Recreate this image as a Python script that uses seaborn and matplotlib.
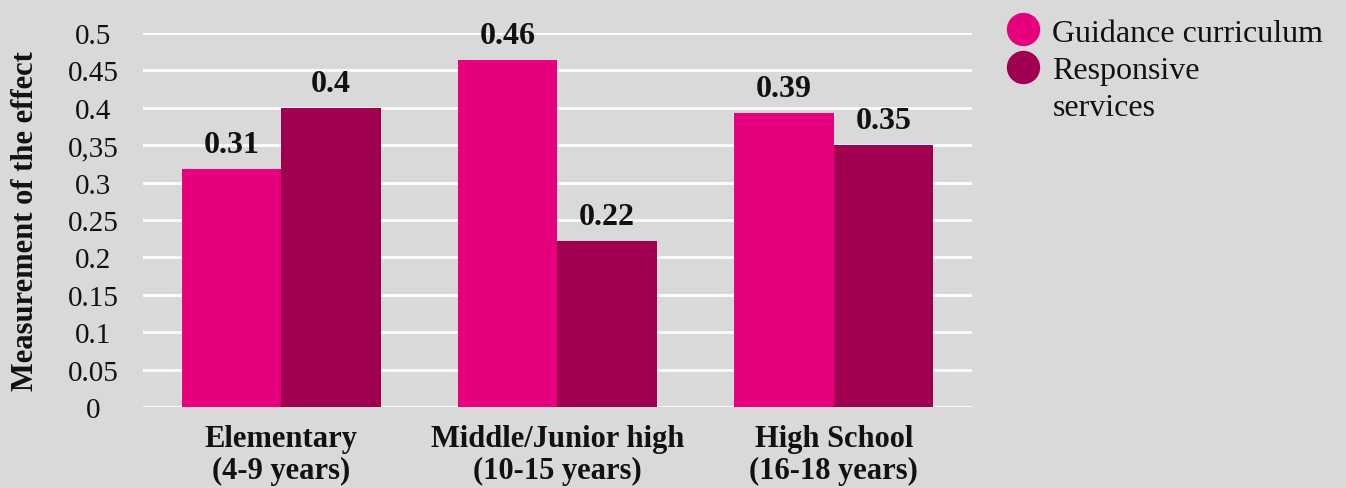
import matplotlib
matplotlib.use("Agg")
import matplotlib.pyplot as plt
from matplotlib.lines import Line2D
import seaborn as sns
import pandas as pd

# data
categories = ["Elementary\n(4-9 years)", "Middle/Junior high\n(10-15 years)", "High School\n(16-18 years)"]
series = ["Guidance curriculum", "Responsive services"]
guidance = [0.318, 0.464, 0.393]
responsive = [0.40, 0.222, 0.35]
guidance_labels = ["0.31", "0.46", "0.39"]
responsive_labels = ["0.4", "0.22", "0.35"]
y_ticks = [0, 0.05, 0.1, 0.15, 0.2, 0.25, 0.3, 0.35, 0.4, 0.45, 0.5]
y_tick_labels = ["0", "0.05", "0.1", "0.15", "0.2", "0.25", "0.3", "0,35", "0.4", "0.45", "0.5"]

colors = {"Guidance curriculum": "#E6007E", "Responsive services": "#A0004F"}
bg = "#D9D9D9"
ink = "#111111"

df = pd.DataFrame({
    "category": categories * 2,
    "series": [series[0]] * 3 + [series[1]] * 3,
    "value": guidance + responsive,
})

sns.set_style("whitegrid", {"axes.facecolor": bg, "figure.facecolor": bg,
                            "grid.color": "white", "text.color": ink,
                            "xtick.color": ink, "ytick.color": ink,
                            "axes.labelcolor": ink})
plt.rcParams["font.family"] = ["Liberation Serif", "DejaVu Serif"]

fig = plt.figure(figsize=(13.46, 4.89), dpi=100)
ax = fig.add_axes([0.1062, 0.1656, 0.6159, 0.765])

sns.barplot(data=df, x="category", y="value", hue="series", palette=colors,
            width=0.72, saturation=1, legend=False, linewidth=0, ax=ax)

ax.bar_label(ax.containers[0], labels=guidance_labels, padding=7,
             fontsize=23, fontweight="bold")
ax.bar_label(ax.containers[1], labels=responsive_labels, padding=7,
             fontsize=23, fontweight="bold")

ax.set_xlim(-0.5, 2.5)
ax.set_ylim(0, 0.5)
ax.set_yticks(y_ticks)
ax.set_yticklabels(y_tick_labels, fontsize=21, ha="center")
ax.tick_params(axis="y", pad=36, length=0)
ax.tick_params(axis="x", length=0, pad=12)
for t in ax.get_xticklabels():
    t.set_fontweight("bold")
    t.set_fontsize(22)
    t.set_linespacing(1.15)
ax.grid(axis="y", color="white", linewidth=2)
ax.grid(axis="x", visible=False)
ax.set_axisbelow(True)
for s in ax.spines.values():
    s.set_visible(False)
ax.set_xlabel("")
ax.set_ylabel("Measurement of the effect", fontsize=22, fontweight="bold", labelpad=20)

# legend: second label wraps, its marker sits on the first line
handles = [Line2D([], [], marker="o", linestyle="", markersize=24,
                  markerfacecolor=colors[s], markeredgewidth=0) for s in series]
handles.append(Line2D([], [], linestyle="", marker=""))
fig.legend(handles, ["Guidance curriculum", "Responsive", "services"],
           loc="upper left", bbox_to_anchor=(0.734, 1.0), frameon=False,
           fontsize=23, handletextpad=0.42, labelspacing=0.25,
           borderaxespad=0.2, handlelength=1.0)

fig.savefig("out.png", dpi=100, facecolor=bg)
